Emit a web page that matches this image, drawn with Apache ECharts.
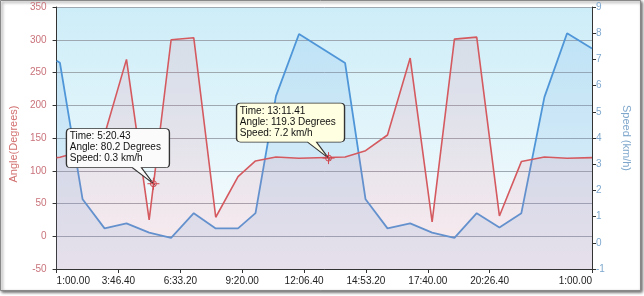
<!DOCTYPE html>
<html><head><meta charset="utf-8">
<script src="https://cdn.jsdelivr.net/npm/echarts@6/dist/echarts.min.js"></script>
<style>html,body{margin:0;padding:0;background:#fff}#c{width:644px;height:296px}</style>
</head><body><div id="c"></div>
<script>
// elapsed seconds since 1:00.00
const times  = [0, 9, 70, 129, 188, 249, 308, 369, 428, 488, 535, 590, 652, 776, 831, 890, 951, 1010, 1070, 1130, 1191, 1250, 1312, 1373, 1440];
const angles = [120, 120.5, 130, 155, 270, 25, 300, 303, 29, 91, 115, 121, 119, 121, 130.6, 154.6, 272, 22, 301, 304, 31, 114, 121, 119, 120];
const speeds = [6.95, 6.87, 1.66, 0.55, 0.74, 0.39, 0.19, 1.13, 0.55, 0.55, 1.13, 5.6, 7.97, 6.86, 1.66, 0.55, 0.74, 0.39, 0.19, 1.13, 0.58, 1.13, 5.56, 8.0, 7.42];

const xTickValues = [0, 166.4, 332.8, 499.2, 665.6, 832, 998.4, 1164.8, 1440];
const xTickLabels = ['1:00.00', '3:46.40', '6:33.20', '9:20.00', '12:06.40', '14:53.20', '17:40.00', '20:26.40', '1:00.00'];

const tipTimes      = [260.43, 731.41];
const tipTimeLabels = ['5:20.43', '13:11.41'];
const tipAngles     = [80.2, 119.3];
const tipSpeeds     = [0.3, 7.2];
const tipBgColors   = ['#fbfbfb', '#ffffe1'];

const FONT = '"Liberation Sans", Arial, sans-serif';
const cv = document.createElement('canvas').getContext('2d');
cv.font = '10px "Liberation Sans"';

function calloutPath(W) {
  const R = 16, L = R - W, T = -55, B = -16, r = 4;
  return 'path://M' + (L + r) + ',' + T + ' L' + (R - r) + ',' + T + ' Q' + R + ',' + T + ' ' + R + ',' + (T + r) +
    ' L' + R + ',' + (B - r) + ' Q' + R + ',' + B + ' ' + (R - r) + ',' + B +
    ' L-12,' + B + ' L0,0 L-21,' + B +
    ' L' + (L + r) + ',' + B + ' Q' + L + ',' + B + ' ' + L + ',' + (B - r) +
    ' L' + L + ',' + (T + r) + ' Q' + L + ',' + T + ' ' + (L + r) + ',' + T + ' Z';
}

const markData = [];
tipTimes.forEach((t, i) => {
  const lines = ['Time: ' + tipTimeLabels[i], 'Angle: ' + tipAngles[i] + ' Degrees', 'Speed: ' + tipSpeeds[i] + ' km/h'];
  const tw = Math.max.apply(null, lines.map(s => cv.measureText(s).width));
  const W = Math.round(tw + 12);
  const L = 16 - W;
  markData.push({
    coord: [t, tipAngles[i]],
    symbol: calloutPath(W),
    symbolSize: [W, 55],
    symbolOffset: [(L + 16) / 2, -27.5],
    itemStyle: { color: tipBgColors[i], borderColor: '#333', borderWidth: 1 },
    label: {
      show: true, position: [4, 2.5], align: 'left', verticalAlign: 'top',
      formatter: lines.join('\n'), fontSize: 10, lineHeight: 11, color: '#111', fontFamily: FONT
    }
  });
  markData.push({
    coord: [t, tipAngles[i]],
    symbol: 'path://M-6,0 L6,0 M0,-6 L0,6 M3,0 A3,3 0 1,1 -3,0 A3,3 0 1,1 3,0 Z',
    symbolSize: 12,
    itemStyle: { color: 'rgba(255,255,255,0)', borderColor: '#d0484f', borderWidth: 1 },
    label: { show: false }
  });
});

const angleData = times.map((t, i) => [t, angles[i]]);
const speedData = times.map((t, i) => [t, speeds[i]]);

const chart = echarts.init(document.getElementById('c'), null, { renderer: 'canvas' });
chart.setOption({
  animation: false,
  graphic: [{
    type: 'rect', z: -100, silent: true,
    shape: { x: 0.5, y: 0.5, width: 640, height: 290 },
    style: { fill: '#fff', stroke: '#888', lineWidth: 1, shadowBlur: 3, shadowOffsetX: 1.5, shadowOffsetY: 1.5, shadowColor: 'rgba(0,0,0,0.6)' }
  }],
  grid: {
    left: 54, right: 52, top: 7, bottom: 27, show: true, borderWidth: 0,
    backgroundColor: { type: 'linear', x: 0, y: 0, x2: 0, y2: 1, colorStops: [{ offset: 0, color: '#cdedf8' }, { offset: 0.5, color: '#e3f5fb' }, { offset: 1, color: '#ffffff' }] }
  },
  xAxis: {
    type: 'value', min: 0, max: 1440,
    axisLine: { show: true, onZero: false, lineStyle: { color: '#333', width: 1 } },
    axisTick: { show: true, length: 4, customValues: xTickValues, lineStyle: { color: '#333' } },
    splitLine: { show: false },
    axisLabel: {
      customValues: xTickValues, margin: 7, fontSize: 10, color: '#222', fontFamily: FONT,
      alignMinLabel: 'left', alignMaxLabel: 'right',
      formatter: v => { const k = xTickValues.findIndex(x => Math.abs(x - v) < 0.01); return k >= 0 ? xTickLabels[k] : ''; }
    }
  },
  yAxis: [{
    type: 'value', min: -50, max: 350, interval: 50,
    name: 'Angle(Degrees)', nameLocation: 'middle', nameGap: 37,
    nameTextStyle: { color: '#d27070', fontSize: 11, fontFamily: FONT, padding: [0, 12, 0, 0] },
    axisLine: { show: true, lineStyle: { color: '#333' } },
    axisTick: { show: true, length: 4, lineStyle: { color: '#333' } },
    axisLabel: { color: '#c9737b', fontSize: 10, margin: 10, fontFamily: FONT },
    splitLine: { show: true, lineStyle: { color: '#9ea8b0', width: 1 } }
  }, {
    type: 'value', min: -1, max: 9, interval: 1, position: 'right',
    name: 'Speed (km/h)', nameLocation: 'middle', nameGap: 29, nameRotate: -90,
    nameTextStyle: { color: '#7fa7cc', fontSize: 11, fontFamily: FONT },
    axisLine: { show: true, lineStyle: { color: '#333' } },
    axisTick: { show: true, length: 4, lineStyle: { color: '#333' } },
    axisLabel: { color: '#7ea8cf', fontSize: 10, margin: 4, fontFamily: FONT },
    splitLine: { show: false }
  }],
  series: [{
    name: 'Speed', type: 'line', yAxisIndex: 1, data: speedData, z: 2,
    showSymbol: false, symbol: 'none',
    lineStyle: { color: '#4f96d8', width: 1.8 },
    areaStyle: { color: 'rgba(90,165,230,0.22)', origin: 'start' }
  }, {
    name: 'Angle', type: 'line', yAxisIndex: 0, data: angleData, z: 3,
    showSymbol: false, symbol: 'none',
    lineStyle: { color: '#d45a60', width: 1.6 },
    areaStyle: { color: 'rgba(232,120,140,0.2)', origin: 'start' },
    markPoint: { silent: true, animation: false, data: markData }
  }]
});
</script>
</body></html>
